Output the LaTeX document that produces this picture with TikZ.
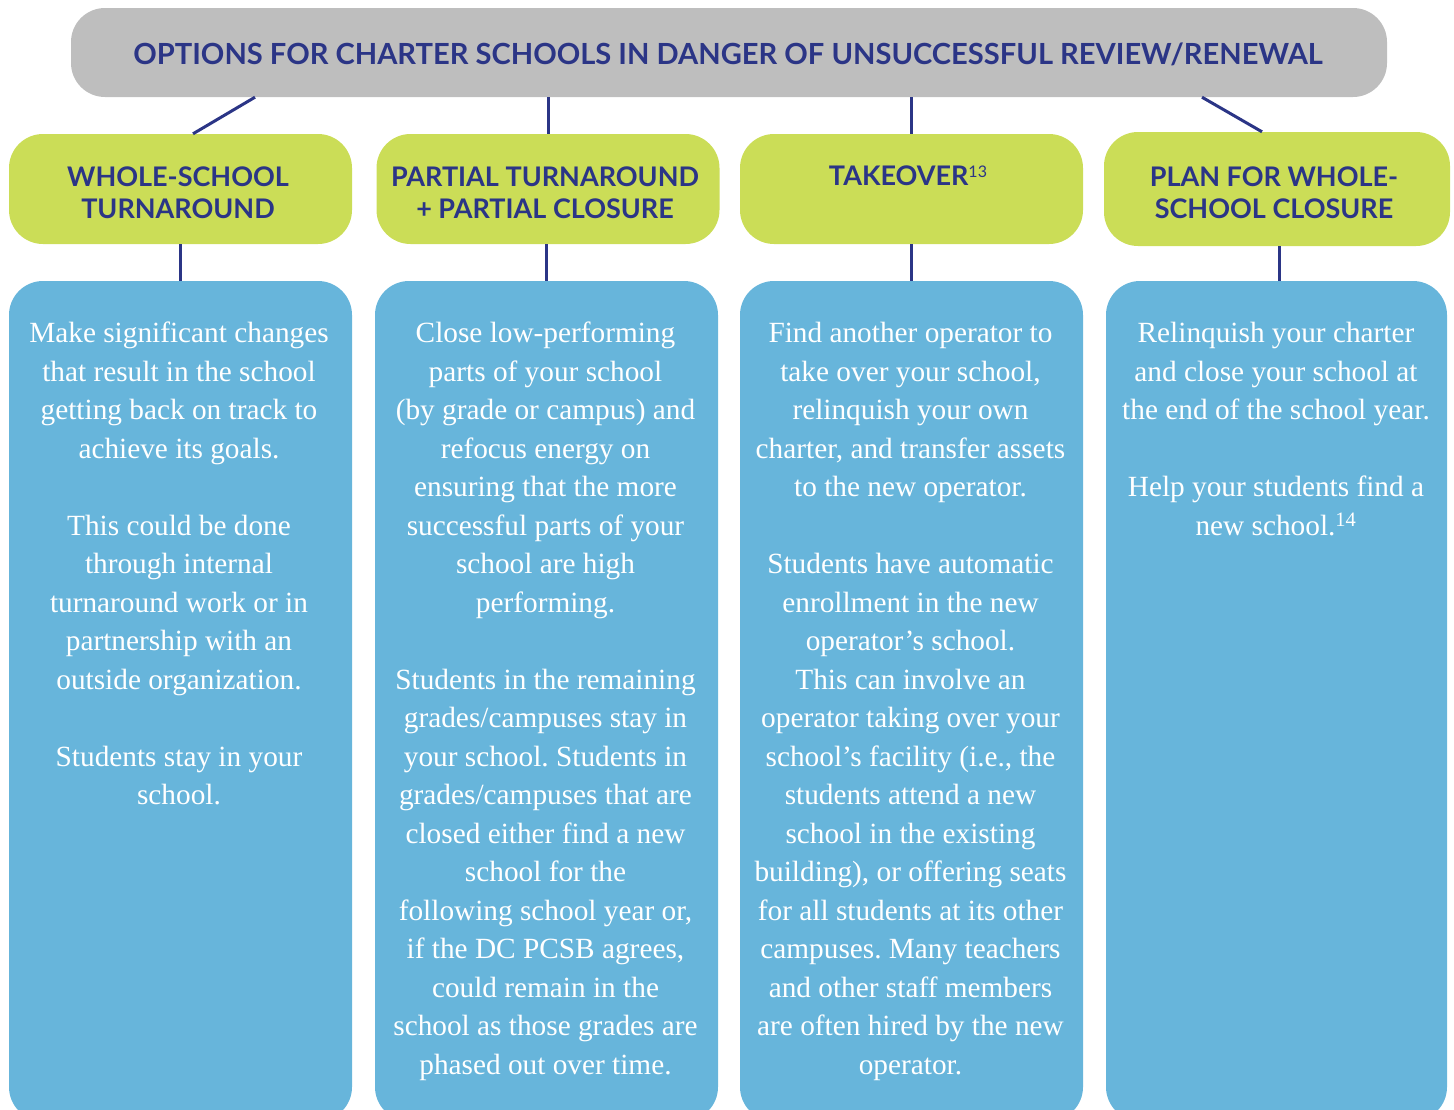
\documentclass[tikz,border=0pt]{standalone}
\usepackage{fontspec}
\setmainfont{Liberation Serif}
\newfontfamily\lato{Lato}
\frenchspacing
\definecolor{navy}{HTML}{2B3586}
\definecolor{titlegray}{HTML}{BEBEBE}
\definecolor{lime}{HTML}{CBDD57}
\definecolor{skyblue}{HTML}{67B5DB}
\begin{document}
\begin{tikzpicture}[x=1pt,y=-1pt,
  titlebox/.style={fill=titlegray, rounded corners=34pt, inner sep=0pt,
    minimum width=1316pt, minimum height=89pt},
  titletext/.style={text=navy, inner sep=0pt,
    font=\lato\bfseries\fontsize{29.1}{32}\selectfont},
  headbox/.style={fill=lime, rounded corners=34pt, inner sep=0pt,
    minimum width=343pt, minimum height=110pt},
  headtext/.style={text=navy, align=center, inner sep=0pt,
    font=\lato\bfseries\fontsize{27}{32}\selectfont},
  bodybox/.style={fill=skyblue, rounded corners=34pt, inner sep=0pt,
    minimum width=343pt, minimum height=840pt},
  bodytext/.style={text=white, align=center, inner sep=0pt, anchor=north,
    font=\fontsize{29.3}{38.5}\selectfont\frenchspacing},
  link/.style={draw=navy, line width=3pt}]
\useasboundingbox (0,0) rectangle (1454,1109);
\clip (0,0) rectangle (1454,1109);

\node[titlebox] (title) at (729,52.5) {};
\node[titletext] (titlet) at (728,54) {OPTIONS FOR CHARTER SCHOOLS IN DANGER OF UNSUCCESSFUL REVIEW/RENEWAL};

\node[headbox] (h1) at (180.5,189) {};
\node[headbox] (h2) at (548,189) {};
\node[headbox] (h3) at (911.5,189) {};
\node[headbox, minimum width=346pt, minimum height=114pt] (h4) at (1277,189) {};

\node[headtext] (h1t) at (178,192.5) {WHOLE-SCHOOL\\TURNAROUND};
\node[headtext] (h2t) at (545,192.5) {PARTIAL TURNAROUND\\+ PARTIAL CLOSURE};
\node[headtext] (h3t) at (908,176)
  {TAKEOVER{\mdseries\fontsize{16}{16}\selectfont\raisebox{8pt}{13}}};
\node[headtext] (h4t) at (1274,192.5) {PLAN FOR WHOLE-\\SCHOOL CLOSURE};

\node[bodybox] (b1) at (180.5,701) {};
\node[bodybox] (b2) at (546.5,701) {};
\node[bodybox] (b3) at (911.5,701) {};
\node[bodybox, minimum width=341pt] (b4) at (1276.5,701) {};

\draw[link] ([xshift=-474pt]title.south) -- ([xshift=12.5pt]h1.north);
\draw[link] (title.south -| h2.north) -- (h2.north);
\draw[link] (title.south -| h3.north) -- (h3.north);
\draw[link] ([xshift=473pt]title.south) -- ([xshift=-15pt]h4.north);

\draw[link] (h1.south) -- (b1.north);
\draw[link] (h2.south -| b2.north) -- (b2.north);
\draw[link] (h3.south) -- (b3.north);
\draw[link] (h4.south -| 1279,0) -- (b4.north -| 1279,0);

\node[bodytext] (t1) at (179,322) {Make significant changes\\that result in the school\\getting back on track to\\achieve its goals.\\[38.5pt]This could be done\\through internal\\turnaround work or in\\partnership with an\\outside organization.\\[38.5pt]Students stay in your\\school.};
\node[bodytext] (t2) at (545.5,322) {Close low-performing\\parts of your school\\(by grade or campus) and\\refocus energy on\\ensuring that the more\\successful parts of your\\school are high\\performing.\\[38.5pt]Students in the remaining\\grades/campuses stay in\\your school. Students in\\grades/campuses that are\\closed either find a new\\school for the\\following school year or,\\if the DC PCSB agrees,\\could remain in the\\school as those grades are\\phased out over time.};
\node[bodytext] (t3) at (910.5,322) {Find another operator to\\take over your school,\\relinquish your own\\charter, and transfer assets\\to the new operator.\\[38.5pt]Students have automatic\\enrollment in the new\\operator’s school.\\This can involve an\\operator taking over your\\school’s facility (i.e., the\\students attend a new\\school in the existing\\building), or offering seats\\for all students at its other\\campuses. Many teachers\\and other staff members\\are often hired by the new\\operator.};
\node[bodytext] (t4) at (1276,322) {Relinquish your charter\\and close your school at\\the end of the school year.\\[38.5pt]Help your students find a\\new school.\textsuperscript{14}};
\end{tikzpicture}
\end{document}
